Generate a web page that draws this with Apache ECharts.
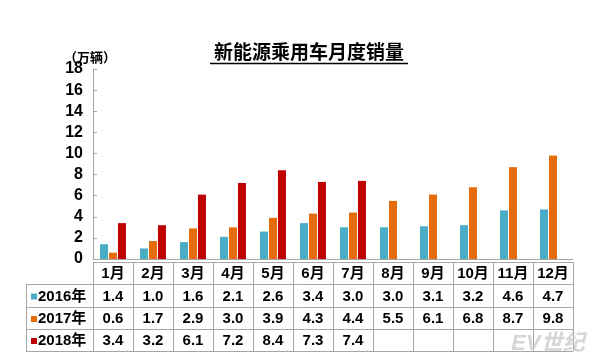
<!DOCTYPE html>
<html><head><meta charset="utf-8">
<script src="https://cdn.jsdelivr.net/npm/echarts@6/dist/echarts.min.js"></script>
<style>html,body{margin:0;padding:0;background:#fff}#c{width:600px;height:364px}</style>
</head><body><div id="c"></div>
<script>
var months = ['1月','2月','3月','4月','5月','6月','7月','8月','9月','10月','11月','12月'];
var seriesNames = ['2016年','2017年','2018年'];
var s2016 = [1.4,1.0,1.6,2.1,2.6,3.4,3.0,3.0,3.1,3.2,4.6,4.7];
var s2017 = [0.6,1.7,2.9,3.0,3.9,4.3,4.4,5.5,6.1,6.8,8.7,9.8];
var s2018 = [3.4,3.2,6.1,7.2,8.4,7.3,7.4,null,null,null,null,null];
var yTicks = {min:0,max:18,interval:2};
var colors = ['#4bacc6','#e46c0a','#c00000'];
var FONT = '"Liberation Sans","Noto Sans CJK SC",sans-serif';

var chart = echarts.init(document.getElementById('c'));
var allData = [s2016,s2017,s2018];
var option = {
  animation:false,
  backgroundColor:'#fff',
  grid:{left:93,right:27,top:69,bottom:105},
  xAxis:{type:'category',data:months,axisLabel:{show:false},axisTick:{show:false},
    axisLine:{lineStyle:{color:'#a6a6a6',width:1}}},
  yAxis:{type:'value',min:yTicks.min,max:yTicks.max,interval:yTicks.interval,
    axisLine:{show:true,lineStyle:{color:'#a6a6a6'}},
    axisTick:{show:true,inside:true,length:4,lineStyle:{color:'#a6a6a6'}},
    splitLine:{show:false},
    axisLabel:{color:'#000',fontWeight:'bold',fontSize:16,fontFamily:FONT,margin:10}},
  series: allData.map(function(d,i){return {type:'bar',name:seriesNames[i],data:d,barWidth:8,barGap:'12%',
    itemStyle:{color:colors[i]}};})
};
chart.setOption(option);

function buildGraphics(){
  var els = [];
  var half = 20;
  var rowTops = [262,284,307,329,351];
  var line = {stroke:'#a6a6a6',lineWidth:1};
  var x0 = chart.convertToPixel({xAxisIndex:0},0) - half;
  var x1 = chart.convertToPixel({xAxisIndex:0},months.length-1) + half;
  var labelLeft = 26;
  // horizontal lines
  els.push({type:'line',shape:{x1:x0,y1:rowTops[0]+0.5,x2:x1,y2:rowTops[0]+0.5},style:line});
  for (var r=1;r<rowTops.length;r++){
    els.push({type:'line',shape:{x1:labelLeft,y1:rowTops[r]+0.5,x2:x1,y2:rowTops[r]+0.5},style:line});
  }
  // vertical lines
  els.push({type:'line',shape:{x1:labelLeft+0.5,y1:rowTops[1],x2:labelLeft+0.5,y2:rowTops[4]},style:line});
  for (var i=0;i<=months.length;i++){
    var xx = Math.round(x0 + i*(x1-x0)/months.length)+0.5;
    els.push({type:'line',shape:{x1:xx,y1:rowTops[0],x2:xx,y2:rowTops[4]},style:line});
  }
  var txt = function(x,y,t,align){return {type:'text',x:x,y:y,style:{text:t,fill:'#000',font:'bold 15px '+FONT,textAlign:align||'center',textVerticalAlign:'middle'}};};
  months.forEach(function(m,i){
    var cx = chart.convertToPixel({xAxisIndex:0},i);
    els.push(txt(cx,(rowTops[0]+rowTops[1])/2+1,m));
    allData.forEach(function(d,s){
      if (d[i]!=null) els.push(txt(cx,(rowTops[s+1]+rowTops[s+2])/2+1,d[i].toFixed(1)));
    });
  });
  seriesNames.forEach(function(n,s){
    var cy = (rowTops[s+1]+rowTops[s+2])/2+1;
    els.push({type:'rect',shape:{x:31,y:cy-3,width:6,height:6},style:{fill:colors[s]}});
    els.push(txt(38,cy,n,'left'));
  });
  // title
  els.push({type:'text',x:309,y:54,style:{text:'新能源乘用车月度销量',fill:'#000',font:'bold 19px '+FONT,textAlign:'center',textVerticalAlign:'middle'}});
  els.push({type:'line',shape:{x1:210,y1:63.5,x2:408,y2:63.5},style:{stroke:'#000',lineWidth:1.5}});
  // unit
  els.push({type:'text',x:90,y:58,style:{text:'（万辆）',fill:'#000',font:'bold 13px '+FONT,textAlign:'center',textVerticalAlign:'middle'}});
  // watermark
  els.push({type:'text',x:548,y:344,style:{text:'EV世纪',fill:'rgba(200,200,200,0.75)',font:'italic bold 22px '+FONT,textAlign:'center',textVerticalAlign:'middle'}});
  return els;
}
chart.setOption({graphic:{elements:buildGraphics()}});
</script></body></html>
